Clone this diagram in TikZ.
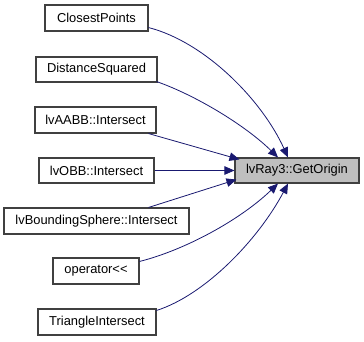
\documentclass[tikz,border=0pt]{standalone}
\usepackage{fontspec}
\newfontfamily\lab{Liberation Sans}
\usetikzlibrary{arrows.meta}
\definecolor{edgeblue}{HTML}{191970}
\definecolor{boxline}{HTML}{404040}
\definecolor{focusfill}{HTML}{BFBFBF}
\begin{document}
\begin{tikzpicture}[x=1pt,y=-1pt,
  fn/.style={draw=boxline,line width=1.1pt,fill=white,inner sep=0pt,
    font=\lab\fontsize{12.9}{14}\selectfont,text=black},
  focus/.style={fn,fill=focusfill},
  call/.style={draw=edgeblue,line width=0.8pt,
    -{Triangle[length=10pt,width=8.5pt,fill=edgeblue]}}]
\useasboundingbox (0,0) rectangle (364,341);

% callers
\node[fn,minimum width=103pt,minimum height=26pt] (cp) at (96.5,18) {ClosestPoints};
\node[fn,minimum width=121pt,minimum height=25pt] (ds) at (96.5,69.5) {DistanceSquared};
\node[fn,minimum width=121pt,minimum height=26pt] (aabb) at (95.5,120) {lvAABB::Intersect};
\node[fn,minimum width=115pt,minimum height=25pt] (obb) at (96.5,170.5) {lvOBB::Intersect};
\node[fn,minimum width=185pt,minimum height=26pt] (bs) at (96.5,221) {lvBoundingSphere::Intersect};
\node[fn,minimum width=86pt,minimum height=26pt] (op) at (96,271) {operator<<};
\node[fn,minimum width=118pt,minimum height=26pt] (tri) at (97,322) {TriangleIntersect};

% callee
\node[focus,minimum width=124pt,minimum height=25pt] (go) at (297,170.5) {lvRay3::GetOrigin};

% call edges
\draw[call] ([yshift=4pt]cp.south east) .. controls (205,42) and (262,100) .. ([xshift=-9pt]go.north);
\draw[call] ([xshift=-1pt,yshift=1pt]ds.south east) .. controls (195,95) and (245,125) .. ([xshift=-19pt]go.north);
\draw[call] ([xshift=-8pt]aabb.south east) -- ([xshift=5pt,yshift=-2pt]go.north west);
\draw[call] (obb.east) -- (go.west);
\draw[call] ([xshift=-41pt]bs.north east) -- ([xshift=2pt,yshift=4pt]go.south west);
\draw[call] ([yshift=-4pt]op.north east) .. controls (185,250) and (240,220) .. ([xshift=-19pt]go.south);
\draw[call] ([yshift=-2pt]tri.north east) .. controls (205,295) and (258,240) .. ([xshift=-9pt]go.south);
\end{tikzpicture}
\end{document}
